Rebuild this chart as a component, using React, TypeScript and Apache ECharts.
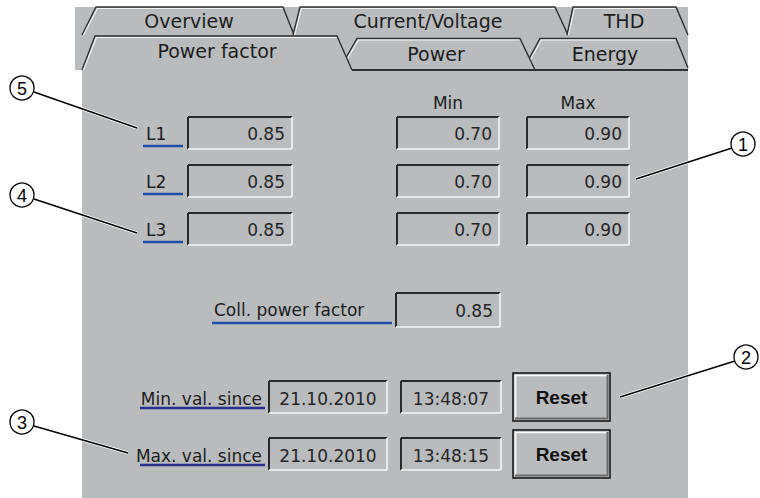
import React, { useEffect, useRef } from "react";
import * as echarts from "echarts";

// ---- content ----
const backTabs = ["Overview", "Current/Voltage", "THD"];
const frontTabs = ["Power factor", "Power", "Energy"];
const columnHeaders = ["Min", "Max"];
const phaseLabels = ["L1", "L2", "L3"];
const phaseValues = ["0.85", "0.85", "0.85"];
const minValues = ["0.70", "0.70", "0.70"];
const maxValues = ["0.90", "0.90", "0.90"];
const collectiveLabel = "Coll. power factor";
const collectiveValue = "0.85";
const sinceLabels = ["Min. val. since", "Max. val. since"];
const sinceDates = ["21.10.2010", "21.10.2010"];
const sinceTimes = ["13:48:07", "13:48:15"];
const buttonLabels = ["Reset", "Reset"];
const calloutNumbers = ["1", "2", "3", "4", "5"];

// ---- styling ----
const BG = "#b9bbbd";
const DARK = "#2a2a2a";
const LIGHT = "#f6f6f6";
const TXT = "#1e1e1e";
const BLUE = "#1f4fa6";
const NAVY = "#2c2f8c";
const BODY_FONT = "17px 'DejaVu Sans'";
const TAB_FONT = "19px 'DejaVu Sans'";

function ln(x1: number, y1: number, x2: number, y2: number, stroke: string, w: number, z = 5) {
  return { type: "line", z, shape: { x1, y1, x2, y2 }, style: { stroke, lineWidth: w } };
}
function tx(text: string, x: number, y: number, font: string, align: string, fill = TXT, z = 10) {
  return {
    type: "text",
    z,
    x,
    y,
    style: {
      text,
      font,
      fill,
      align,
      textAlign: align,
      verticalAlign: "middle",
      textVerticalAlign: "middle",
    },
  };
}
function insetBox(x: number, y: number, w: number, h: number) {
  return [
    { type: "rect", z: 3, shape: { x, y, width: w, height: h }, style: { fill: BG } },
    ln(x, y, x + w, y, DARK, 2),
    ln(x, y, x, y + h, DARK, 2),
    ln(x, y + h, x + w, y + h, LIGHT, 1.6),
    ln(x + w, y, x + w, y + h, LIGHT, 1.6),
  ];
}
function button(x: number, y: number, w: number, h: number, label: string) {
  return [
    { type: "rect", z: 3, shape: { x, y, width: w, height: h }, style: { fill: BG, stroke: "#111", lineWidth: 1.5 } },
    ln(x + 2, y + 2.5, x + w - 2.5, y + 2.5, "#fbfbfb", 1.6),
    ln(x + 2.5, y + 2, x + 2.5, y + h - 2.5, "#fbfbfb", 1.6),
    ln(x + 2, y + h - 2.5, x + w - 2, y + h - 2.5, "#6c6c6c", 2),
    ln(x + w - 2.5, y + 2, x + w - 2.5, y + h - 2, "#6c6c6c", 2),
    tx(label, x + w / 2, y + h / 2, "bold 19px 'Liberation Sans'", "center", "#111"),
  ];
}
function tab(pts: number[][], z: number) {
  const [lb, lt, rt, rb] = pts;
  return [
    { type: "polygon", z, shape: { points: pts }, style: { fill: BG } },
    { type: "polyline", z: z + 0.1, shape: { points: [lb, lt, rt, rb] }, style: { stroke: "#303030", lineWidth: 1.4, fill: null } },
    {
      type: "polyline",
      z: z + 0.2,
      shape: { points: [[lb[0] + 1.6, lb[1]], [lt[0] + 1.4, lt[1] + 1.5], [rt[0] - 0.6, rt[1] + 1.5]] },
      style: { stroke: "#f4f4f4", lineWidth: 1.1, fill: null },
    },
  ];
}

const backTabGeom = [
  { pts: [[82, 35], [96, 7], [283, 7], [294, 35]], cx: 189, cy: 21 },
  { pts: [[293, 35], [300, 7], [555, 7], [568, 35]], cx: 428, cy: 21 },
  { pts: [[567, 35], [573, 7], [676, 7], [688, 35]], cx: 624, cy: 21 },
];
const frontTabGeom = [
  { pts: [[82, 70], [95, 36], [337, 36], [352, 70]], cx: 217, cy: 51 },
  { pts: [[339, 70], [357, 38.5], [520, 38.5], [535, 70]], cx: 436, cy: 54 },
  { pts: [[523, 70], [540, 38.5], [676, 38.5], [688, 68]], cx: 605, cy: 54 },
];

const calloutGeom = [
  { cx: 743, cy: 144, from: [636, 179], to: [732, 148] },
  { cx: 746, cy: 357, from: [620, 397], to: [735, 361] },
  { cx: 22, cy: 422, from: [128, 453], to: [34, 426] },
  { cx: 22, cy: 195, from: [137, 233], to: [34, 199] },
  { cx: 22, cy: 88, from: [137, 128], to: [34, 92] },
];

function buildElements() {
  const els: any[] = [];
  // panel background
  els.push({ type: "rect", z: 0, shape: { x: 75, y: 7, width: 613, height: 63 }, style: { fill: BG } });
  els.push({ type: "rect", z: 0, shape: { x: 82, y: 60, width: 606, height: 438 }, style: { fill: BG } });

  // back row tabs
  backTabs.forEach((name, i) => {
    const g = backTabGeom[i];
    els.push(...tab(g.pts, 1 + i * 0.3));
    els.push(tx(name, g.cx, g.cy, TAB_FONT, "center"));
  });
  // front row tabs: draw Energy, Power, then active Power factor on top
  [2, 1, 0].forEach((i, k) => {
    const g = frontTabGeom[i];
    els.push(...tab(g.pts, 2 + k * 0.3));
    els.push(tx(frontTabs[i], g.cx, g.cy, TAB_FONT, "center"));
  });
  // bottom line under inactive tabs
  els.push(ln(352, 70, 688, 70, "#303030", 2, 4));

  // column headers
  els.push(tx(columnHeaders[0], 448, 103, BODY_FONT, "center"));
  els.push(tx(columnHeaders[1], 578, 103, BODY_FONT, "center"));

  // phase rows
  phaseLabels.forEach((lab, i) => {
    const y = 117 + i * 48;
    els.push(tx(lab, 146, y + 17, BODY_FONT, "left"));
    els.push(ln(143, y + 29, 183, y + 29, BLUE, 2.5));
    els.push(...insetBox(188, y, 104, 32));
    els.push(tx(phaseValues[i], 285, y + 17, BODY_FONT, "right", "#262626"));
    els.push(...insetBox(397, y, 102, 32));
    els.push(tx(minValues[i], 492, y + 17, BODY_FONT, "right", "#262626"));
    els.push(...insetBox(527, y, 102, 32));
    els.push(tx(maxValues[i], 622, y + 17, BODY_FONT, "right", "#262626"));
  });

  // collective power factor
  els.push(tx(collectiveLabel, 214, 310, BODY_FONT, "left"));
  els.push(ln(212, 323, 392, 323, BLUE, 2.5));
  els.push(...insetBox(396, 293, 104, 34));
  els.push(tx(collectiveValue, 493, 311, BODY_FONT, "right", "#262626"));

  // since rows
  sinceLabels.forEach((lab, i) => {
    const y = i === 0 ? 381 : 438;
    els.push(tx(lab, 262, y + 18, BODY_FONT, "right"));
    els.push(ln(140, y + 27, 265, y + 27, NAVY, 2.5));
    els.push(...insetBox(269, y, 118, 32));
    els.push(tx(sinceDates[i], 328, y + 18, BODY_FONT, "center", "#262626"));
    els.push(...insetBox(401, y, 100, 32));
    els.push(tx(sinceTimes[i], 451, y + 18, BODY_FONT, "center", "#262626"));
    els.push(...button(513, y - 8, 97, 48, buttonLabels[i]));
  });

  // callouts
  calloutNumbers.forEach((num, i) => {
    const c = calloutGeom[i];
    els.push(ln(c.from[0], c.from[1], c.to[0], c.to[1], "#ffffff", 3.2, 20));
    els.push(ln(c.from[0], c.from[1], c.to[0], c.to[1], "#000000", 1.4, 21));
    els.push({
      type: "circle",
      z: 22,
      shape: { cx: c.cx, cy: c.cy, r: 12 },
      style: { fill: "#ffffff", stroke: "#000000", lineWidth: 1.3 },
    });
    els.push(tx(num, c.cx, c.cy + 1, "18px 'Liberation Sans'", "center", "#000", 23));
  });
  return els;
}

export default function App() {
  const ref = useRef<HTMLDivElement>(null);
  useEffect(() => {
    if (!ref.current) return;
    const chart = echarts.init(ref.current, undefined, { renderer: "svg" });
    chart.setOption({
      animation: false,
      backgroundColor: "#ffffff",
      graphic: { elements: buildElements() },
    });
    return () => chart.dispose();
  }, []);
  return (
    <div
      ref={ref}
      style={{ position: "fixed", left: 0, top: 0, width: 760, height: 498, background: "#fff" }}
    />
  );
}
